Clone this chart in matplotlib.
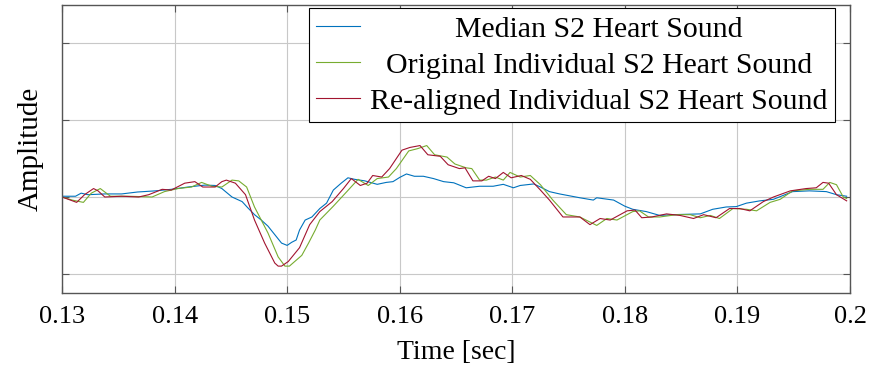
import numpy as np
import matplotlib
matplotlib.use('Agg')
import matplotlib.pyplot as plt

plt.rcParams['font.family'] = ['Liberation Serif', 'DejaVu Serif']

# median S2
t_med = [0.1300, 0.1312, 0.1317, 0.1323, 0.1338, 0.1353, 0.1367, 0.1383, 0.1397, 0.1412,
         0.1427, 0.1436, 0.1442, 0.1451, 0.1460, 0.1465, 0.1471, 0.1477, 0.1483, 0.1489,
         0.1495, 0.1500, 0.1504, 0.1508, 0.1511, 0.1516, 0.1522, 0.1529, 0.1535, 0.1541,
         0.1548, 0.1554, 0.1560, 0.1569, 0.1580, 0.1588, 0.1594, 0.1600, 0.1606, 0.1613,
         0.1621, 0.1630, 0.1639, 0.1648, 0.1659, 0.1671, 0.1683, 0.1692, 0.1701, 0.1707,
         0.1719, 0.1725, 0.1733, 0.1742, 0.1760, 0.1772, 0.1775, 0.1790, 0.1800, 0.1807,
         0.1819, 0.1831, 0.1843, 0.1855, 0.1867, 0.1878, 0.1890, 0.1899, 0.1908, 0.1920,
         0.1932, 0.1949, 0.1964, 0.1979, 0.1988, 0.1997]
a_med = [0.01, 0.01, 0.05, 0.03, 0.04, 0.04, 0.065, 0.08, 0.10, 0.13,
         0.155, 0.15, 0.11, 0.0, -0.06, -0.14, -0.23, -0.30, -0.38, -0.49,
         -0.60, -0.63, -0.59, -0.56, -0.43, -0.30, -0.26, -0.15, -0.08, 0.09,
         0.18, 0.25, 0.23, 0.21, 0.165, 0.19, 0.20, 0.255, 0.30, 0.27,
         0.27, 0.24, 0.20, 0.185, 0.12, 0.14, 0.14, 0.165, 0.12, 0.15,
         0.17, 0.13, 0.07, 0.04, -0.01, -0.04, -0.01, -0.04, -0.12, -0.16,
         -0.19, -0.24, -0.23, -0.225, -0.22, -0.16, -0.13, -0.125, -0.08, -0.05,
         -0.03, 0.07, 0.08, 0.07, 0.03, 0.01]

# original individual S2
t_orig = [0.1300, 0.1309, 0.1319, 0.1326, 0.1334, 0.1343, 0.1359, 0.1380, 0.1391, 0.1403,
          0.1415, 0.1424, 0.1433, 0.1442, 0.1451, 0.1457, 0.1464, 0.1471, 0.1483, 0.1492,
          0.1498, 0.1502, 0.1513, 0.1519, 0.1525, 0.1529, 0.1541, 0.1553, 0.1563, 0.1572,
          0.1580, 0.1590, 0.1597, 0.1608, 0.1616, 0.1624, 0.1631, 0.1642, 0.1649, 0.1659,
          0.1664, 0.1671, 0.1677, 0.1685, 0.1692, 0.1698, 0.1707, 0.1716, 0.1725, 0.1736,
          0.1748, 0.1760, 0.1775, 0.1784, 0.1793, 0.1807, 0.1813, 0.1821, 0.1831, 0.1846,
          0.1858, 0.1867, 0.1876, 0.1884, 0.1896, 0.1908, 0.1917, 0.1929, 0.1938, 0.1949,
          0.1964, 0.1976, 0.1982, 0.1988, 0.1994, 0.1997]
a_orig = [0.0, -0.04, -0.07, 0.05, 0.11, 0.01, 0.01, 0.0, 0.07, 0.11,
          0.13, 0.19, 0.14, 0.13, 0.22, 0.21, 0.13, -0.13, -0.47, -0.78,
          -0.90, -0.90, -0.76, -0.60, -0.43, -0.30, -0.12, 0.07, 0.23, 0.15,
          0.24, 0.26, 0.37, 0.60, 0.63, 0.67, 0.55, 0.52, 0.43, 0.38,
          0.37, 0.22, 0.22, 0.26, 0.22, 0.32, 0.26, 0.28, 0.16, -0.04,
          -0.23, -0.26, -0.37, -0.28, -0.30, -0.19, -0.18, -0.26, -0.26, -0.23,
          -0.23, -0.27, -0.24, -0.28, -0.15, -0.16, -0.18, -0.07, -0.03, 0.08,
          0.10, 0.10, 0.19, 0.16, 0.0, -0.02]

# re-aligned individual S2
t_real = [0.1300, 0.1313, 0.1320, 0.1328, 0.1332, 0.1338, 0.1353, 0.1368, 0.1377, 0.1389,
          0.1397, 0.1409, 0.1418, 0.1425, 0.1436, 0.1442, 0.1446, 0.1454, 0.1463, 0.1471,
          0.1480, 0.1489, 0.1492, 0.1495, 0.1501, 0.1511, 0.1520, 0.1529, 0.1540, 0.1550,
          0.1557, 0.1565, 0.1571, 0.1576, 0.1584, 0.1591, 0.1602, 0.1609, 0.1618, 0.1625,
          0.1636, 0.1643, 0.1653, 0.1658, 0.1665, 0.1673, 0.1679, 0.1685, 0.1692, 0.1699,
          0.1708, 0.1716, 0.1725, 0.1733, 0.1745, 0.1760, 0.1769, 0.1778, 0.1787, 0.1802,
          0.1809, 0.1815, 0.1824, 0.1837, 0.1849, 0.1861, 0.1870, 0.1881, 0.1893, 0.1902,
          0.1911, 0.1923, 0.1932, 0.1947, 0.1961, 0.1970, 0.1976, 0.1981, 0.1988, 0.1997]
a_real = [0.0, -0.07, 0.03, 0.11, 0.08, 0.0, 0.01, 0.0, 0.03, 0.10,
          0.09, 0.18, 0.20, 0.13, 0.13, 0.20, 0.22, 0.18, 0.03, -0.30,
          -0.60, -0.86, -0.90, -0.90, -0.84, -0.66, -0.36, -0.19, -0.06, 0.11,
          0.24, 0.15, 0.18, 0.28, 0.26, 0.37, 0.61, 0.645, 0.67, 0.55,
          0.53, 0.42, 0.37, 0.38, 0.21, 0.21, 0.27, 0.24, 0.32, 0.25,
          0.28, 0.23, 0.09, -0.04, -0.26, -0.26, -0.36, -0.28, -0.30, -0.18,
          -0.17, -0.27, -0.26, -0.22, -0.24, -0.28, -0.23, -0.27, -0.15, -0.15,
          -0.18, -0.06, 0.0, 0.08, 0.11, 0.12, 0.19, 0.18, 0.03, -0.05]

labels = ['Median S2 Heart Sound', 'Original Individual S2 Heart Sound',
          'Re-aligned Individual S2 Heart Sound']
colors = ['#0072bd', '#77ac30', '#a2142f']

fig = plt.figure(figsize=(8.71, 3.68), dpi=100)
ax = fig.add_axes([0.0712, 0.2038, 0.9047, 0.7826])

ax.plot(t_med, a_med, color=colors[0], lw=0.8, label=labels[0])
ax.plot(t_orig, a_orig, color=colors[1], lw=0.8, label=labels[1])
ax.plot(t_real, a_real, color=colors[2], lw=0.8, label=labels[2])

ax.set_xlim(0.13, 0.2)
ax.set_ylim(-1.25, 2.5)
ax.set_xticks([0.13, 0.14, 0.15, 0.16, 0.17, 0.18, 0.19, 0.2])
ax.set_xticklabels(['0.13', '0.14', '0.15', '0.16', '0.17', '0.18', '0.19', '0.2'])
ax.set_yticks([-1, 0, 1, 2])
ax.set_yticklabels([])
ax.grid(True, color='#c8c8c8', lw=0.8)
ax.tick_params(direction='in', top=True, right=True, length=5, width=0.8,
               colors='#555555', labelcolor='black', labelsize=19, pad=9)
for s in ax.spines.values():
    s.set_color('#555555')
    s.set_linewidth(1.0)

ax.set_xlabel('Time [sec]', fontsize=20, labelpad=9)
ax.set_ylabel('Amplitude', fontsize=21, labelpad=4)

leg = ax.legend(loc='upper right', bbox_to_anchor=(0.981, 0.988), fontsize=21.5,
                frameon=True, fancybox=False, edgecolor='black', framealpha=1,
                borderpad=0.25, labelspacing=0.3, handlelength=1.45,
                handletextpad=0.35, borderaxespad=0)
leg.get_frame().set_linewidth(0.8)

# center the legend labels like pgfplots does
fig.canvas.draw()
r = fig.canvas.get_renderer()
texts = leg.get_texts()
ws = [t.get_window_extent(r).width for t in texts]
for t, w in zip(texts, ws):
    t.set_position(((max(ws) - w) / 2, 0))

fig.savefig('out.png', dpi=100)
